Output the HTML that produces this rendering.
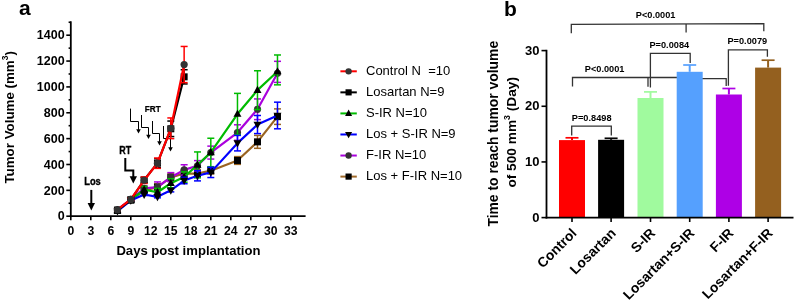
<!DOCTYPE html>
<html><head><meta charset="utf-8"><style>
html,body{margin:0;padding:0;background:#fff;width:797px;height:301px;overflow:hidden}
svg{display:block;will-change:transform}
text{font-family:"Liberation Sans", sans-serif;fill:#000}
</style></head><body>
<svg width="797" height="301" viewBox="0 0 797 301">
<text x="19" y="14.9" font-size="21" font-weight="bold">a</text>
<line x1="70.8" y1="21.3" x2="70.8" y2="217.1" stroke="#000" stroke-width="1.8"/>
<line x1="66.3" y1="216.20" x2="70.8" y2="216.20" stroke="#000" stroke-width="1.6"/>
<text x="64.6" y="220.40" font-size="12.5" font-weight="bold" text-anchor="end">0</text>
<line x1="66.3" y1="190.34" x2="70.8" y2="190.34" stroke="#000" stroke-width="1.6"/>
<text x="64.6" y="194.54" font-size="12.5" font-weight="bold" text-anchor="end">200</text>
<line x1="66.3" y1="164.49" x2="70.8" y2="164.49" stroke="#000" stroke-width="1.6"/>
<text x="64.6" y="168.69" font-size="12.5" font-weight="bold" text-anchor="end">400</text>
<line x1="66.3" y1="138.63" x2="70.8" y2="138.63" stroke="#000" stroke-width="1.6"/>
<text x="64.6" y="142.83" font-size="12.5" font-weight="bold" text-anchor="end">600</text>
<line x1="66.3" y1="112.77" x2="70.8" y2="112.77" stroke="#000" stroke-width="1.6"/>
<text x="64.6" y="116.97" font-size="12.5" font-weight="bold" text-anchor="end">800</text>
<line x1="66.3" y1="86.91" x2="70.8" y2="86.91" stroke="#000" stroke-width="1.6"/>
<text x="64.6" y="91.11" font-size="12.5" font-weight="bold" text-anchor="end">1000</text>
<line x1="66.3" y1="61.06" x2="70.8" y2="61.06" stroke="#000" stroke-width="1.6"/>
<text x="64.6" y="65.26" font-size="12.5" font-weight="bold" text-anchor="end">1200</text>
<line x1="66.3" y1="35.20" x2="70.8" y2="35.20" stroke="#000" stroke-width="1.6"/>
<text x="64.6" y="39.40" font-size="12.5" font-weight="bold" text-anchor="end">1400</text>
<line x1="68.6" y1="203.27" x2="70.8" y2="203.27" stroke="#000" stroke-width="1.6"/>
<line x1="68.6" y1="177.41" x2="70.8" y2="177.41" stroke="#000" stroke-width="1.6"/>
<line x1="68.6" y1="151.56" x2="70.8" y2="151.56" stroke="#000" stroke-width="1.6"/>
<line x1="68.6" y1="125.70" x2="70.8" y2="125.70" stroke="#000" stroke-width="1.6"/>
<line x1="68.6" y1="99.84" x2="70.8" y2="99.84" stroke="#000" stroke-width="1.6"/>
<line x1="68.6" y1="73.99" x2="70.8" y2="73.99" stroke="#000" stroke-width="1.6"/>
<line x1="68.6" y1="48.13" x2="70.8" y2="48.13" stroke="#000" stroke-width="1.6"/>
<line x1="68.6" y1="22.27" x2="70.8" y2="22.27" stroke="#000" stroke-width="1.6"/>
<line x1="69.89999999999999" y1="216.2" x2="305.6" y2="216.2" stroke="#000" stroke-width="1.8"/>
<line x1="70.80" y1="216.2" x2="70.80" y2="220.2" stroke="#000" stroke-width="1.6"/>
<text x="70.80" y="234.6" font-size="12.2" font-weight="bold" text-anchor="middle">0</text>
<line x1="90.80" y1="216.2" x2="90.80" y2="220.2" stroke="#000" stroke-width="1.6"/>
<text x="90.80" y="234.6" font-size="12.2" font-weight="bold" text-anchor="middle">3</text>
<line x1="110.80" y1="216.2" x2="110.80" y2="220.2" stroke="#000" stroke-width="1.6"/>
<text x="110.80" y="234.6" font-size="12.2" font-weight="bold" text-anchor="middle">6</text>
<line x1="130.80" y1="216.2" x2="130.80" y2="220.2" stroke="#000" stroke-width="1.6"/>
<text x="130.80" y="234.6" font-size="12.2" font-weight="bold" text-anchor="middle">9</text>
<line x1="150.80" y1="216.2" x2="150.80" y2="220.2" stroke="#000" stroke-width="1.6"/>
<text x="150.80" y="234.6" font-size="12.2" font-weight="bold" text-anchor="middle">12</text>
<line x1="170.81" y1="216.2" x2="170.81" y2="220.2" stroke="#000" stroke-width="1.6"/>
<text x="170.81" y="234.6" font-size="12.2" font-weight="bold" text-anchor="middle">15</text>
<line x1="190.81" y1="216.2" x2="190.81" y2="220.2" stroke="#000" stroke-width="1.6"/>
<text x="190.81" y="234.6" font-size="12.2" font-weight="bold" text-anchor="middle">18</text>
<line x1="210.81" y1="216.2" x2="210.81" y2="220.2" stroke="#000" stroke-width="1.6"/>
<text x="210.81" y="234.6" font-size="12.2" font-weight="bold" text-anchor="middle">21</text>
<line x1="230.81" y1="216.2" x2="230.81" y2="220.2" stroke="#000" stroke-width="1.6"/>
<text x="230.81" y="234.6" font-size="12.2" font-weight="bold" text-anchor="middle">24</text>
<line x1="250.81" y1="216.2" x2="250.81" y2="220.2" stroke="#000" stroke-width="1.6"/>
<text x="250.81" y="234.6" font-size="12.2" font-weight="bold" text-anchor="middle">27</text>
<line x1="270.81" y1="216.2" x2="270.81" y2="220.2" stroke="#000" stroke-width="1.6"/>
<text x="270.81" y="234.6" font-size="12.2" font-weight="bold" text-anchor="middle">30</text>
<line x1="290.81" y1="216.2" x2="290.81" y2="220.2" stroke="#000" stroke-width="1.6"/>
<text x="290.81" y="234.6" font-size="12.2" font-weight="bold" text-anchor="middle">33</text>
<text x="116.4" y="254.5" font-size="13.1" font-weight="bold">Days post implantation</text>
<text transform="translate(13.8,183.6) rotate(-90)" font-size="13.35" font-weight="bold">Tumor Volume (mm<tspan dy="-6.3" font-size="8.5">3</tspan><tspan dy="6.3">)</tspan></text>
<text transform="translate(84.2,184.6) scale(0.85,1)" font-size="11" font-weight="bold" stroke="#000" stroke-width="0.35">Los</text>
<line x1="91.3" y1="189.9" x2="91.3" y2="204" stroke="#000" stroke-width="2"/>
<path d="M87.6,203 L95,203 L91.3,210.4 Z" fill="#000"/>
<text transform="translate(119.3,153.6) scale(0.88,1)" font-size="10.2" font-weight="bold" stroke="#000" stroke-width="0.3">RT</text>
<path d="M125.3,157.9 L125.3,170.4 L133.3,170.4 L133.3,177" fill="none" stroke="#000" stroke-width="2"/>
<path d="M129.6,176.3 L137,176.3 L133.3,183.6 Z" fill="#000"/>
<text transform="translate(144.8,111.6) scale(0.9,1)" font-size="9.1" font-weight="bold" stroke="#000" stroke-width="0.25">FRT</text>
<path d="M130.5,108.6 L130.5,121.5 L138.5,121.5 L138.5,129.9" fill="none" stroke="#000" stroke-width="1"/>
<path d="M136.2,129.20000000000002 L140.8,129.20000000000002 L138.5,133.4 Z" fill="#000"/>
<path d="M141.5,115 L141.5,127.5 L148.5,127.5 L148.5,135.5" fill="none" stroke="#000" stroke-width="1"/>
<path d="M146.2,134.8 L150.8,134.8 L148.5,139 Z" fill="#000"/>
<path d="M152.5,121 L152.5,133.5 L159.5,133.5 L159.5,141.9" fill="none" stroke="#000" stroke-width="1"/>
<path d="M157.2,141.20000000000002 L161.8,141.20000000000002 L159.5,145.4 Z" fill="#000"/>
<path d="M163.5,126 L163.5,138.5 L170.5,138.5 L170.5,147.9" fill="none" stroke="#000" stroke-width="1"/>
<path d="M168.2,147.20000000000002 L172.8,147.20000000000002 L170.5,151.4 Z" fill="#000"/>
<line x1="117.47" y1="208.44" x2="117.47" y2="212.32" stroke="#9a6422" stroke-width="1.5"/>
<line x1="113.97" y1="208.44" x2="120.97" y2="208.44" stroke="#9a6422" stroke-width="1.5"/>
<line x1="113.97" y1="212.32" x2="120.97" y2="212.32" stroke="#9a6422" stroke-width="1.5"/>
<line x1="130.80" y1="198.49" x2="130.80" y2="201.59" stroke="#9a6422" stroke-width="1.5"/>
<line x1="127.30" y1="198.49" x2="134.30" y2="198.49" stroke="#9a6422" stroke-width="1.5"/>
<line x1="127.30" y1="201.59" x2="134.30" y2="201.59" stroke="#9a6422" stroke-width="1.5"/>
<line x1="144.14" y1="187.76" x2="144.14" y2="192.93" stroke="#9a6422" stroke-width="1.5"/>
<line x1="140.64" y1="187.76" x2="147.64" y2="187.76" stroke="#9a6422" stroke-width="1.5"/>
<line x1="140.64" y1="192.93" x2="147.64" y2="192.93" stroke="#9a6422" stroke-width="1.5"/>
<line x1="157.47" y1="183.88" x2="157.47" y2="190.34" stroke="#9a6422" stroke-width="1.5"/>
<line x1="153.97" y1="183.88" x2="160.97" y2="183.88" stroke="#9a6422" stroke-width="1.5"/>
<line x1="153.97" y1="190.34" x2="160.97" y2="190.34" stroke="#9a6422" stroke-width="1.5"/>
<line x1="170.81" y1="173.54" x2="170.81" y2="181.29" stroke="#9a6422" stroke-width="1.5"/>
<line x1="167.31" y1="173.54" x2="174.31" y2="173.54" stroke="#9a6422" stroke-width="1.5"/>
<line x1="167.31" y1="181.29" x2="174.31" y2="181.29" stroke="#9a6422" stroke-width="1.5"/>
<line x1="184.14" y1="169.66" x2="184.14" y2="177.41" stroke="#9a6422" stroke-width="1.5"/>
<line x1="180.64" y1="169.66" x2="187.64" y2="169.66" stroke="#9a6422" stroke-width="1.5"/>
<line x1="180.64" y1="177.41" x2="187.64" y2="177.41" stroke="#9a6422" stroke-width="1.5"/>
<line x1="197.47" y1="169.66" x2="197.47" y2="177.41" stroke="#9a6422" stroke-width="1.5"/>
<line x1="193.97" y1="169.66" x2="200.97" y2="169.66" stroke="#9a6422" stroke-width="1.5"/>
<line x1="193.97" y1="177.41" x2="200.97" y2="177.41" stroke="#9a6422" stroke-width="1.5"/>
<line x1="210.81" y1="167.46" x2="210.81" y2="173.92" stroke="#9a6422" stroke-width="1.5"/>
<line x1="207.31" y1="167.46" x2="214.31" y2="167.46" stroke="#9a6422" stroke-width="1.5"/>
<line x1="207.31" y1="173.92" x2="214.31" y2="173.92" stroke="#9a6422" stroke-width="1.5"/>
<line x1="237.47" y1="156.60" x2="237.47" y2="164.36" stroke="#9a6422" stroke-width="1.5"/>
<line x1="233.97" y1="156.60" x2="240.97" y2="156.60" stroke="#9a6422" stroke-width="1.5"/>
<line x1="233.97" y1="164.36" x2="240.97" y2="164.36" stroke="#9a6422" stroke-width="1.5"/>
<line x1="257.48" y1="135.40" x2="257.48" y2="148.32" stroke="#9a6422" stroke-width="1.5"/>
<line x1="253.98" y1="135.40" x2="260.98" y2="135.40" stroke="#9a6422" stroke-width="1.5"/>
<line x1="253.98" y1="148.32" x2="260.98" y2="148.32" stroke="#9a6422" stroke-width="1.5"/>
<line x1="277.48" y1="108.89" x2="277.48" y2="124.41" stroke="#9a6422" stroke-width="1.5"/>
<line x1="273.98" y1="108.89" x2="280.98" y2="108.89" stroke="#9a6422" stroke-width="1.5"/>
<line x1="273.98" y1="124.41" x2="280.98" y2="124.41" stroke="#9a6422" stroke-width="1.5"/>
<polyline points="117.47,210.38 130.80,200.04 144.14,190.34 157.47,187.11 170.81,177.41 184.14,173.54 197.47,173.54 210.81,170.69 237.47,160.48 257.48,141.86 277.48,116.65" fill="none" stroke="#9a6422" stroke-width="2.2" stroke-linejoin="round"/>
<rect x="113.97" y="206.88" width="7.00" height="7.00" fill="#000"/>
<rect x="127.30" y="196.54" width="7.00" height="7.00" fill="#000"/>
<rect x="140.64" y="186.84" width="7.00" height="7.00" fill="#000"/>
<rect x="153.97" y="183.61" width="7.00" height="7.00" fill="#000"/>
<rect x="167.31" y="173.91" width="7.00" height="7.00" fill="#000"/>
<rect x="180.64" y="170.04" width="7.00" height="7.00" fill="#000"/>
<rect x="193.97" y="170.04" width="7.00" height="7.00" fill="#000"/>
<rect x="207.31" y="167.19" width="7.00" height="7.00" fill="#000"/>
<rect x="233.97" y="156.98" width="7.00" height="7.00" fill="#000"/>
<rect x="253.98" y="138.36" width="7.00" height="7.00" fill="#000"/>
<rect x="273.98" y="113.15" width="7.00" height="7.00" fill="#000"/>
<line x1="117.47" y1="207.80" x2="117.47" y2="211.67" stroke="#aa00dd" stroke-width="1.5"/>
<line x1="113.97" y1="207.80" x2="120.97" y2="207.80" stroke="#aa00dd" stroke-width="1.5"/>
<line x1="113.97" y1="211.67" x2="120.97" y2="211.67" stroke="#aa00dd" stroke-width="1.5"/>
<line x1="130.80" y1="197.84" x2="130.80" y2="200.94" stroke="#aa00dd" stroke-width="1.5"/>
<line x1="127.30" y1="197.84" x2="134.30" y2="197.84" stroke="#aa00dd" stroke-width="1.5"/>
<line x1="127.30" y1="200.94" x2="134.30" y2="200.94" stroke="#aa00dd" stroke-width="1.5"/>
<line x1="144.14" y1="185.82" x2="144.14" y2="190.99" stroke="#aa00dd" stroke-width="1.5"/>
<line x1="140.64" y1="185.82" x2="147.64" y2="185.82" stroke="#aa00dd" stroke-width="1.5"/>
<line x1="140.64" y1="190.99" x2="147.64" y2="190.99" stroke="#aa00dd" stroke-width="1.5"/>
<line x1="157.47" y1="181.94" x2="157.47" y2="192.28" stroke="#aa00dd" stroke-width="1.5"/>
<line x1="153.97" y1="181.94" x2="160.97" y2="181.94" stroke="#aa00dd" stroke-width="1.5"/>
<line x1="153.97" y1="192.28" x2="160.97" y2="192.28" stroke="#aa00dd" stroke-width="1.5"/>
<line x1="170.81" y1="172.63" x2="170.81" y2="181.68" stroke="#aa00dd" stroke-width="1.5"/>
<line x1="167.31" y1="172.63" x2="174.31" y2="172.63" stroke="#aa00dd" stroke-width="1.5"/>
<line x1="167.31" y1="181.68" x2="174.31" y2="181.68" stroke="#aa00dd" stroke-width="1.5"/>
<line x1="184.14" y1="164.74" x2="184.14" y2="175.09" stroke="#aa00dd" stroke-width="1.5"/>
<line x1="180.64" y1="164.74" x2="187.64" y2="164.74" stroke="#aa00dd" stroke-width="1.5"/>
<line x1="180.64" y1="175.09" x2="187.64" y2="175.09" stroke="#aa00dd" stroke-width="1.5"/>
<line x1="197.47" y1="160.61" x2="197.47" y2="170.95" stroke="#aa00dd" stroke-width="1.5"/>
<line x1="193.97" y1="160.61" x2="200.97" y2="160.61" stroke="#aa00dd" stroke-width="1.5"/>
<line x1="193.97" y1="170.95" x2="200.97" y2="170.95" stroke="#aa00dd" stroke-width="1.5"/>
<line x1="210.81" y1="146.13" x2="210.81" y2="159.06" stroke="#aa00dd" stroke-width="1.5"/>
<line x1="207.31" y1="146.13" x2="214.31" y2="146.13" stroke="#aa00dd" stroke-width="1.5"/>
<line x1="207.31" y1="159.06" x2="214.31" y2="159.06" stroke="#aa00dd" stroke-width="1.5"/>
<line x1="237.47" y1="124.79" x2="237.47" y2="140.31" stroke="#aa00dd" stroke-width="1.5"/>
<line x1="233.97" y1="124.79" x2="240.97" y2="124.79" stroke="#aa00dd" stroke-width="1.5"/>
<line x1="233.97" y1="140.31" x2="240.97" y2="140.31" stroke="#aa00dd" stroke-width="1.5"/>
<line x1="257.48" y1="98.94" x2="257.48" y2="119.62" stroke="#aa00dd" stroke-width="1.5"/>
<line x1="253.98" y1="98.94" x2="260.98" y2="98.94" stroke="#aa00dd" stroke-width="1.5"/>
<line x1="253.98" y1="119.62" x2="260.98" y2="119.62" stroke="#aa00dd" stroke-width="1.5"/>
<line x1="277.48" y1="61.32" x2="277.48" y2="82.39" stroke="#aa00dd" stroke-width="1.5"/>
<line x1="273.98" y1="61.32" x2="280.98" y2="61.32" stroke="#aa00dd" stroke-width="1.5"/>
<line x1="273.98" y1="82.39" x2="280.98" y2="82.39" stroke="#aa00dd" stroke-width="1.5"/>
<polyline points="117.47,209.74 130.80,199.39 144.14,188.40 157.47,187.11 170.81,177.16 184.14,169.92 197.47,165.78 210.81,152.59 237.47,132.55 257.48,109.28 277.48,73.34" fill="none" stroke="#aa00dd" stroke-width="2.2" stroke-linejoin="round"/>
<circle cx="117.47" cy="209.74" r="3.60" fill="#333"/>
<circle cx="130.80" cy="199.39" r="3.60" fill="#333"/>
<circle cx="144.14" cy="188.40" r="3.60" fill="#333"/>
<circle cx="157.47" cy="187.11" r="3.60" fill="#333"/>
<circle cx="170.81" cy="177.16" r="3.60" fill="#333"/>
<circle cx="184.14" cy="169.92" r="3.60" fill="#333"/>
<circle cx="197.47" cy="165.78" r="3.60" fill="#333"/>
<circle cx="210.81" cy="152.59" r="3.60" fill="#333"/>
<circle cx="237.47" cy="132.55" r="3.60" fill="#333"/>
<circle cx="257.48" cy="109.28" r="3.60" fill="#333"/>
<circle cx="277.48" cy="73.34" r="3.60" fill="#333"/>
<line x1="117.47" y1="208.44" x2="117.47" y2="212.32" stroke="#00bb00" stroke-width="1.5"/>
<line x1="113.97" y1="208.44" x2="120.97" y2="208.44" stroke="#00bb00" stroke-width="1.5"/>
<line x1="113.97" y1="212.32" x2="120.97" y2="212.32" stroke="#00bb00" stroke-width="1.5"/>
<line x1="130.80" y1="198.49" x2="130.80" y2="201.59" stroke="#00bb00" stroke-width="1.5"/>
<line x1="127.30" y1="198.49" x2="134.30" y2="198.49" stroke="#00bb00" stroke-width="1.5"/>
<line x1="127.30" y1="201.59" x2="134.30" y2="201.59" stroke="#00bb00" stroke-width="1.5"/>
<line x1="144.14" y1="186.46" x2="144.14" y2="192.93" stroke="#00bb00" stroke-width="1.5"/>
<line x1="140.64" y1="186.46" x2="147.64" y2="186.46" stroke="#00bb00" stroke-width="1.5"/>
<line x1="140.64" y1="192.93" x2="147.64" y2="192.93" stroke="#00bb00" stroke-width="1.5"/>
<line x1="157.47" y1="188.40" x2="157.47" y2="196.16" stroke="#00bb00" stroke-width="1.5"/>
<line x1="153.97" y1="188.40" x2="160.97" y2="188.40" stroke="#00bb00" stroke-width="1.5"/>
<line x1="153.97" y1="196.16" x2="160.97" y2="196.16" stroke="#00bb00" stroke-width="1.5"/>
<line x1="170.81" y1="178.71" x2="170.81" y2="187.76" stroke="#00bb00" stroke-width="1.5"/>
<line x1="167.31" y1="178.71" x2="174.31" y2="178.71" stroke="#00bb00" stroke-width="1.5"/>
<line x1="167.31" y1="187.76" x2="174.31" y2="187.76" stroke="#00bb00" stroke-width="1.5"/>
<line x1="184.14" y1="171.85" x2="184.14" y2="182.20" stroke="#00bb00" stroke-width="1.5"/>
<line x1="180.64" y1="171.85" x2="187.64" y2="171.85" stroke="#00bb00" stroke-width="1.5"/>
<line x1="180.64" y1="182.20" x2="187.64" y2="182.20" stroke="#00bb00" stroke-width="1.5"/>
<line x1="197.47" y1="151.94" x2="197.47" y2="177.80" stroke="#00bb00" stroke-width="1.5"/>
<line x1="193.97" y1="151.94" x2="200.97" y2="151.94" stroke="#00bb00" stroke-width="1.5"/>
<line x1="193.97" y1="177.80" x2="200.97" y2="177.80" stroke="#00bb00" stroke-width="1.5"/>
<line x1="210.81" y1="138.24" x2="210.81" y2="166.68" stroke="#00bb00" stroke-width="1.5"/>
<line x1="207.31" y1="138.24" x2="214.31" y2="138.24" stroke="#00bb00" stroke-width="1.5"/>
<line x1="207.31" y1="166.68" x2="214.31" y2="166.68" stroke="#00bb00" stroke-width="1.5"/>
<line x1="237.47" y1="93.38" x2="237.47" y2="134.75" stroke="#00bb00" stroke-width="1.5"/>
<line x1="233.97" y1="93.38" x2="240.97" y2="93.38" stroke="#00bb00" stroke-width="1.5"/>
<line x1="233.97" y1="134.75" x2="240.97" y2="134.75" stroke="#00bb00" stroke-width="1.5"/>
<line x1="257.48" y1="70.75" x2="257.48" y2="109.54" stroke="#00bb00" stroke-width="1.5"/>
<line x1="253.98" y1="70.75" x2="260.98" y2="70.75" stroke="#00bb00" stroke-width="1.5"/>
<line x1="253.98" y1="109.54" x2="260.98" y2="109.54" stroke="#00bb00" stroke-width="1.5"/>
<line x1="277.48" y1="54.98" x2="277.48" y2="84.85" stroke="#00bb00" stroke-width="1.5"/>
<line x1="273.98" y1="54.98" x2="280.98" y2="54.98" stroke="#00bb00" stroke-width="1.5"/>
<line x1="273.98" y1="84.85" x2="280.98" y2="84.85" stroke="#00bb00" stroke-width="1.5"/>
<polyline points="117.47,210.38 130.80,200.04 144.14,189.70 157.47,192.28 170.81,183.23 184.14,177.03 197.47,164.87 210.81,152.46 237.47,114.06 257.48,90.15 277.48,71.53" fill="none" stroke="#00bb00" stroke-width="2.2" stroke-linejoin="round"/>
<path d="M117.47,205.98 L121.47,213.18 L113.47,213.18 Z" fill="#000"/>
<path d="M130.80,195.64 L134.80,202.84 L126.80,202.84 Z" fill="#000"/>
<path d="M144.14,185.30 L148.14,192.50 L140.14,192.50 Z" fill="#000"/>
<path d="M157.47,187.88 L161.47,195.08 L153.47,195.08 Z" fill="#000"/>
<path d="M170.81,178.83 L174.81,186.03 L166.81,186.03 Z" fill="#000"/>
<path d="M184.14,172.63 L188.14,179.83 L180.14,179.83 Z" fill="#000"/>
<path d="M197.47,160.47 L201.47,167.67 L193.47,167.67 Z" fill="#000"/>
<path d="M210.81,148.06 L214.81,155.26 L206.81,155.26 Z" fill="#000"/>
<path d="M237.47,109.66 L241.47,116.86 L233.47,116.86 Z" fill="#000"/>
<path d="M257.48,85.75 L261.48,92.95 L253.48,92.95 Z" fill="#000"/>
<path d="M277.48,67.13 L281.48,74.33 L273.48,74.33 Z" fill="#000"/>
<line x1="117.47" y1="209.99" x2="117.47" y2="212.06" stroke="#0000ff" stroke-width="1.5"/>
<line x1="113.97" y1="209.99" x2="120.97" y2="209.99" stroke="#0000ff" stroke-width="1.5"/>
<line x1="113.97" y1="212.06" x2="120.97" y2="212.06" stroke="#0000ff" stroke-width="1.5"/>
<line x1="130.80" y1="199.39" x2="130.80" y2="201.46" stroke="#0000ff" stroke-width="1.5"/>
<line x1="127.30" y1="199.39" x2="134.30" y2="199.39" stroke="#0000ff" stroke-width="1.5"/>
<line x1="127.30" y1="201.46" x2="134.30" y2="201.46" stroke="#0000ff" stroke-width="1.5"/>
<line x1="144.14" y1="193.45" x2="144.14" y2="195.51" stroke="#0000ff" stroke-width="1.5"/>
<line x1="140.64" y1="193.45" x2="147.64" y2="193.45" stroke="#0000ff" stroke-width="1.5"/>
<line x1="140.64" y1="195.51" x2="147.64" y2="195.51" stroke="#0000ff" stroke-width="1.5"/>
<line x1="157.47" y1="195.77" x2="157.47" y2="197.84" stroke="#0000ff" stroke-width="1.5"/>
<line x1="153.97" y1="195.77" x2="160.97" y2="195.77" stroke="#0000ff" stroke-width="1.5"/>
<line x1="153.97" y1="197.84" x2="160.97" y2="197.84" stroke="#0000ff" stroke-width="1.5"/>
<line x1="170.81" y1="188.79" x2="170.81" y2="191.89" stroke="#0000ff" stroke-width="1.5"/>
<line x1="167.31" y1="188.79" x2="174.31" y2="188.79" stroke="#0000ff" stroke-width="1.5"/>
<line x1="167.31" y1="191.89" x2="174.31" y2="191.89" stroke="#0000ff" stroke-width="1.5"/>
<line x1="184.14" y1="177.28" x2="184.14" y2="183.75" stroke="#0000ff" stroke-width="1.5"/>
<line x1="180.64" y1="177.28" x2="187.64" y2="177.28" stroke="#0000ff" stroke-width="1.5"/>
<line x1="180.64" y1="183.75" x2="187.64" y2="183.75" stroke="#0000ff" stroke-width="1.5"/>
<line x1="197.47" y1="170.56" x2="197.47" y2="180.90" stroke="#0000ff" stroke-width="1.5"/>
<line x1="193.97" y1="170.56" x2="200.97" y2="170.56" stroke="#0000ff" stroke-width="1.5"/>
<line x1="193.97" y1="180.90" x2="200.97" y2="180.90" stroke="#0000ff" stroke-width="1.5"/>
<line x1="210.81" y1="167.20" x2="210.81" y2="177.54" stroke="#0000ff" stroke-width="1.5"/>
<line x1="207.31" y1="167.20" x2="214.31" y2="167.20" stroke="#0000ff" stroke-width="1.5"/>
<line x1="207.31" y1="177.54" x2="214.31" y2="177.54" stroke="#0000ff" stroke-width="1.5"/>
<line x1="237.47" y1="135.40" x2="237.47" y2="150.91" stroke="#0000ff" stroke-width="1.5"/>
<line x1="233.97" y1="135.40" x2="240.97" y2="135.40" stroke="#0000ff" stroke-width="1.5"/>
<line x1="233.97" y1="150.91" x2="240.97" y2="150.91" stroke="#0000ff" stroke-width="1.5"/>
<line x1="257.48" y1="115.49" x2="257.48" y2="133.59" stroke="#0000ff" stroke-width="1.5"/>
<line x1="253.98" y1="115.49" x2="260.98" y2="115.49" stroke="#0000ff" stroke-width="1.5"/>
<line x1="253.98" y1="133.59" x2="260.98" y2="133.59" stroke="#0000ff" stroke-width="1.5"/>
<line x1="277.48" y1="102.17" x2="277.48" y2="128.80" stroke="#0000ff" stroke-width="1.5"/>
<line x1="273.98" y1="102.17" x2="280.98" y2="102.17" stroke="#0000ff" stroke-width="1.5"/>
<line x1="273.98" y1="128.80" x2="280.98" y2="128.80" stroke="#0000ff" stroke-width="1.5"/>
<polyline points="117.47,211.03 130.80,200.43 144.14,194.48 157.47,196.81 170.81,190.34 184.14,180.52 197.47,175.73 210.81,172.37 237.47,143.15 257.48,124.54 277.48,115.49" fill="none" stroke="#0000ff" stroke-width="2.2" stroke-linejoin="round"/>
<path d="M117.47,215.43 L121.47,208.23 L113.47,208.23 Z" fill="#000"/>
<path d="M130.80,204.83 L134.80,197.63 L126.80,197.63 Z" fill="#000"/>
<path d="M144.14,198.88 L148.14,191.68 L140.14,191.68 Z" fill="#000"/>
<path d="M157.47,201.21 L161.47,194.01 L153.47,194.01 Z" fill="#000"/>
<path d="M170.81,194.74 L174.81,187.54 L166.81,187.54 Z" fill="#000"/>
<path d="M184.14,184.92 L188.14,177.72 L180.14,177.72 Z" fill="#000"/>
<path d="M197.47,180.13 L201.47,172.93 L193.47,172.93 Z" fill="#000"/>
<path d="M210.81,176.77 L214.81,169.57 L206.81,169.57 Z" fill="#000"/>
<path d="M237.47,147.55 L241.47,140.35 L233.47,140.35 Z" fill="#000"/>
<path d="M257.48,128.94 L261.48,121.74 L253.48,121.74 Z" fill="#000"/>
<path d="M277.48,119.89 L281.48,112.69 L273.48,112.69 Z" fill="#000"/>
<line x1="117.47" y1="208.18" x2="117.47" y2="212.06" stroke="#000000" stroke-width="1.5"/>
<line x1="113.97" y1="208.18" x2="120.97" y2="208.18" stroke="#000000" stroke-width="1.5"/>
<line x1="113.97" y1="212.06" x2="120.97" y2="212.06" stroke="#000000" stroke-width="1.5"/>
<line x1="130.80" y1="198.36" x2="130.80" y2="201.46" stroke="#000000" stroke-width="1.5"/>
<line x1="127.30" y1="198.36" x2="134.30" y2="198.36" stroke="#000000" stroke-width="1.5"/>
<line x1="127.30" y1="201.46" x2="134.30" y2="201.46" stroke="#000000" stroke-width="1.5"/>
<line x1="144.14" y1="177.41" x2="144.14" y2="182.59" stroke="#000000" stroke-width="1.5"/>
<line x1="140.64" y1="177.41" x2="147.64" y2="177.41" stroke="#000000" stroke-width="1.5"/>
<line x1="140.64" y1="182.59" x2="147.64" y2="182.59" stroke="#000000" stroke-width="1.5"/>
<line x1="157.47" y1="158.67" x2="157.47" y2="167.72" stroke="#000000" stroke-width="1.5"/>
<line x1="153.97" y1="158.67" x2="160.97" y2="158.67" stroke="#000000" stroke-width="1.5"/>
<line x1="153.97" y1="167.72" x2="160.97" y2="167.72" stroke="#000000" stroke-width="1.5"/>
<line x1="170.81" y1="121.05" x2="170.81" y2="136.56" stroke="#000000" stroke-width="1.5"/>
<line x1="167.31" y1="121.05" x2="174.31" y2="121.05" stroke="#000000" stroke-width="1.5"/>
<line x1="167.31" y1="136.56" x2="174.31" y2="136.56" stroke="#000000" stroke-width="1.5"/>
<line x1="184.14" y1="69.72" x2="184.14" y2="83.94" stroke="#000000" stroke-width="1.5"/>
<line x1="180.64" y1="69.72" x2="187.64" y2="69.72" stroke="#000000" stroke-width="1.5"/>
<line x1="180.64" y1="83.94" x2="187.64" y2="83.94" stroke="#000000" stroke-width="1.5"/>
<polyline points="117.47,210.12 130.80,199.91 144.14,180.00 157.47,163.19 170.81,128.80 184.14,76.83" fill="none" stroke="#000000" stroke-width="2.2" stroke-linejoin="round"/>
<rect x="113.97" y="206.62" width="7.00" height="7.00" fill="#000"/>
<rect x="127.30" y="196.41" width="7.00" height="7.00" fill="#000"/>
<rect x="140.64" y="176.50" width="7.00" height="7.00" fill="#000"/>
<rect x="153.97" y="159.69" width="7.00" height="7.00" fill="#000"/>
<rect x="167.31" y="125.30" width="7.00" height="7.00" fill="#000"/>
<rect x="180.64" y="73.33" width="7.00" height="7.00" fill="#000"/>
<line x1="117.47" y1="208.96" x2="117.47" y2="210.51" stroke="#ff0000" stroke-width="1.5"/>
<line x1="113.97" y1="208.96" x2="120.97" y2="208.96" stroke="#ff0000" stroke-width="1.5"/>
<line x1="113.97" y1="210.51" x2="120.97" y2="210.51" stroke="#ff0000" stroke-width="1.5"/>
<line x1="130.80" y1="198.10" x2="130.80" y2="200.69" stroke="#ff0000" stroke-width="1.5"/>
<line x1="127.30" y1="198.10" x2="134.30" y2="198.10" stroke="#ff0000" stroke-width="1.5"/>
<line x1="127.30" y1="200.69" x2="134.30" y2="200.69" stroke="#ff0000" stroke-width="1.5"/>
<line x1="144.14" y1="177.03" x2="144.14" y2="183.49" stroke="#ff0000" stroke-width="1.5"/>
<line x1="140.64" y1="177.03" x2="147.64" y2="177.03" stroke="#ff0000" stroke-width="1.5"/>
<line x1="140.64" y1="183.49" x2="147.64" y2="183.49" stroke="#ff0000" stroke-width="1.5"/>
<line x1="157.47" y1="158.02" x2="157.47" y2="168.36" stroke="#ff0000" stroke-width="1.5"/>
<line x1="153.97" y1="158.02" x2="160.97" y2="158.02" stroke="#ff0000" stroke-width="1.5"/>
<line x1="153.97" y1="168.36" x2="160.97" y2="168.36" stroke="#ff0000" stroke-width="1.5"/>
<line x1="170.81" y1="117.94" x2="170.81" y2="138.63" stroke="#ff0000" stroke-width="1.5"/>
<line x1="167.31" y1="117.94" x2="174.31" y2="117.94" stroke="#ff0000" stroke-width="1.5"/>
<line x1="167.31" y1="138.63" x2="174.31" y2="138.63" stroke="#ff0000" stroke-width="1.5"/>
<line x1="184.14" y1="46.45" x2="184.14" y2="82.65" stroke="#ff0000" stroke-width="1.5"/>
<line x1="180.64" y1="46.45" x2="187.64" y2="46.45" stroke="#ff0000" stroke-width="1.5"/>
<line x1="180.64" y1="82.65" x2="187.64" y2="82.65" stroke="#ff0000" stroke-width="1.5"/>
<polyline points="117.47,209.74 130.80,199.39 144.14,180.26 157.47,163.19 170.81,128.29 184.14,64.55" fill="none" stroke="#ff0000" stroke-width="2.2" stroke-linejoin="round"/>
<circle cx="117.47" cy="209.74" r="3.60" fill="#333"/>
<circle cx="130.80" cy="199.39" r="3.60" fill="#333"/>
<circle cx="144.14" cy="180.26" r="3.60" fill="#333"/>
<circle cx="157.47" cy="163.19" r="3.60" fill="#333"/>
<circle cx="170.81" cy="128.29" r="3.60" fill="#333"/>
<circle cx="184.14" cy="64.55" r="3.60" fill="#333"/>
<line x1="340.4" y1="71.30" x2="356.8" y2="71.30" stroke="#ff0000" stroke-width="2"/>
<circle cx="348.60" cy="71.30" r="3.17" fill="#333"/>
<text x="366" y="74.80" font-size="13" xml:space="preserve">Control N  =10</text>
<line x1="340.4" y1="92.36" x2="356.8" y2="92.36" stroke="#000000" stroke-width="2"/>
<rect x="345.52" y="89.28" width="6.16" height="6.16" fill="#000"/>
<text x="366" y="95.86" font-size="13" xml:space="preserve">Losartan N=9</text>
<line x1="340.4" y1="113.42" x2="356.8" y2="113.42" stroke="#00bb00" stroke-width="2"/>
<path d="M348.60,109.55 L352.12,115.88 L345.08,115.88 Z" fill="#000"/>
<text x="366" y="116.92" font-size="13" xml:space="preserve">S-IR N=10</text>
<line x1="340.4" y1="134.48" x2="356.8" y2="134.48" stroke="#0000ff" stroke-width="2"/>
<path d="M348.60,138.35 L352.12,132.02 L345.08,132.02 Z" fill="#000"/>
<text x="366" y="137.98" font-size="13" xml:space="preserve">Los + S-IR N=9</text>
<line x1="340.4" y1="155.54" x2="356.8" y2="155.54" stroke="#aa00dd" stroke-width="2"/>
<circle cx="348.60" cy="155.54" r="3.17" fill="#333"/>
<text x="366" y="159.04" font-size="13" xml:space="preserve">F-IR N=10</text>
<line x1="340.4" y1="176.60" x2="356.8" y2="176.60" stroke="#a06a2a" stroke-width="2"/>
<rect x="345.52" y="173.52" width="6.16" height="6.16" fill="#000"/>
<text x="366" y="180.10" font-size="13" xml:space="preserve">Los + F-IR N=10</text>
<text x="504" y="16" font-size="21" font-weight="bold">b</text>
<path d="M571.7,135.6 L571.7,126.2 L611.3,126.2 L611.3,135.6" fill="none" stroke="#333" stroke-width="1.3"/>
<text transform="translate(591.7,120.8) scale(0.95,1)" font-size="9.7" font-weight="bold" text-anchor="middle" fill="#222">P=0.8498</text>
<path d="M572.5,86.4 L572.5,77.5 L690,77.5" fill="none" stroke="#333" stroke-width="1.3"/>
<path d="M695,78.6 L726.2,78.6 L726.2,86" fill="none" stroke="#333" stroke-width="1.3"/>
<path d="M648,77.5 L648,86.8" fill="none" stroke="#333" stroke-width="1.3"/>
<text transform="translate(604.6,71.7) scale(0.95,1)" font-size="9.7" font-weight="bold" text-anchor="middle" fill="#222">P&lt;0.0001</text>
<path d="M650.4,87.4 L650.4,53.3 L690.2,53.3 L690.2,63" fill="none" stroke="#333" stroke-width="1.3"/>
<text transform="translate(669.3,47.9) scale(0.95,1)" font-size="9.7" font-weight="bold" text-anchor="middle" fill="#222">P=0.0084</text>
<path d="M728.4,85.8 L728.4,49.8 L767.4,49.8 L767.4,56.7" fill="none" stroke="#333" stroke-width="1.3"/>
<text transform="translate(747.3,43.5) scale(0.95,1)" font-size="9.7" font-weight="bold" text-anchor="middle" fill="#222">P=0.0079</text>
<path d="M571.3,33.2 L571.3,24.3 L763.8,23.6 L763.8,31.2" fill="none" stroke="#333" stroke-width="1.3"/>
<path d="M686.1,24 L686.1,32.4" fill="none" stroke="#333" stroke-width="1.3"/>
<text transform="translate(655.6,18) scale(0.95,1)" font-size="9.7" font-weight="bold" text-anchor="middle" fill="#222">P&lt;0.0001</text>
<rect x="559.00" y="140.10" width="26" height="77.50" fill="#ff0000"/>
<line x1="572.00" y1="137.80" x2="572.00" y2="140.10" stroke="#ff0000" stroke-width="2"/>
<line x1="565.50" y1="137.80" x2="578.50" y2="137.80" stroke="#ff0000" stroke-width="1.7"/>
<rect x="598.10" y="139.80" width="26" height="77.80" fill="#000000"/>
<line x1="611.10" y1="138.30" x2="611.10" y2="139.80" stroke="#000000" stroke-width="2"/>
<line x1="604.60" y1="138.30" x2="617.60" y2="138.30" stroke="#000000" stroke-width="1.7"/>
<rect x="637.50" y="98.00" width="26" height="119.60" fill="#a0fa9e"/>
<line x1="650.50" y1="91.90" x2="650.50" y2="98.00" stroke="#a0fa9e" stroke-width="2"/>
<line x1="644.00" y1="91.90" x2="657.00" y2="91.90" stroke="#a0fa9e" stroke-width="1.7"/>
<rect x="676.70" y="71.80" width="26" height="145.80" fill="#55a0fe"/>
<line x1="689.70" y1="65.00" x2="689.70" y2="71.80" stroke="#55a0fe" stroke-width="2"/>
<line x1="683.20" y1="65.00" x2="696.20" y2="65.00" stroke="#55a0fe" stroke-width="1.7"/>
<rect x="715.90" y="94.50" width="26" height="123.10" fill="#ae00e6"/>
<line x1="728.90" y1="88.50" x2="728.90" y2="94.50" stroke="#ae00e6" stroke-width="2"/>
<line x1="722.40" y1="88.50" x2="735.40" y2="88.50" stroke="#ae00e6" stroke-width="1.7"/>
<rect x="755.10" y="67.60" width="26" height="150.00" fill="#94601f"/>
<line x1="768.10" y1="60.20" x2="768.10" y2="67.60" stroke="#94601f" stroke-width="2"/>
<line x1="761.60" y1="60.20" x2="774.60" y2="60.20" stroke="#94601f" stroke-width="1.7"/>
<line x1="546.5" y1="49.80" x2="546.5" y2="218.5" stroke="#000" stroke-width="1.8"/>
<line x1="541.5" y1="217.60" x2="546.5" y2="217.60" stroke="#000" stroke-width="1.6"/>
<text x="539.4" y="221.50" font-size="13" font-weight="bold" text-anchor="end">0</text>
<line x1="541.5" y1="161.93" x2="546.5" y2="161.93" stroke="#000" stroke-width="1.6"/>
<text x="539.4" y="165.83" font-size="13" font-weight="bold" text-anchor="end">10</text>
<line x1="541.5" y1="106.27" x2="546.5" y2="106.27" stroke="#000" stroke-width="1.6"/>
<text x="539.4" y="110.17" font-size="13" font-weight="bold" text-anchor="end">20</text>
<line x1="541.5" y1="50.60" x2="546.5" y2="50.60" stroke="#000" stroke-width="1.6"/>
<text x="539.4" y="54.50" font-size="13" font-weight="bold" text-anchor="end">30</text>
<line x1="545.6" y1="217.6" x2="793.5" y2="217.6" stroke="#000" stroke-width="1.8"/>
<line x1="572.00" y1="217.6" x2="572.00" y2="222" stroke="#000" stroke-width="1.6"/>
<text transform="translate(577.50,234.0) rotate(-45)" font-size="13.8" font-weight="bold" text-anchor="end">Control</text>
<line x1="611.10" y1="217.6" x2="611.10" y2="222" stroke="#000" stroke-width="1.6"/>
<text transform="translate(616.60,234.0) rotate(-45)" font-size="13.8" font-weight="bold" text-anchor="end">Losartan</text>
<line x1="650.50" y1="217.6" x2="650.50" y2="222" stroke="#000" stroke-width="1.6"/>
<text transform="translate(656.00,234.0) rotate(-45)" font-size="13.8" font-weight="bold" text-anchor="end">S-IR</text>
<line x1="689.70" y1="217.6" x2="689.70" y2="222" stroke="#000" stroke-width="1.6"/>
<text transform="translate(695.20,234.0) rotate(-45)" font-size="13.8" font-weight="bold" text-anchor="end">Losartan+S-IR</text>
<line x1="728.90" y1="217.6" x2="728.90" y2="222" stroke="#000" stroke-width="1.6"/>
<text transform="translate(734.40,234.0) rotate(-45)" font-size="13.8" font-weight="bold" text-anchor="end">F-IR</text>
<line x1="768.10" y1="217.6" x2="768.10" y2="222" stroke="#000" stroke-width="1.6"/>
<text transform="translate(773.60,234.0) rotate(-45)" font-size="13.8" font-weight="bold" text-anchor="end">Losartan+F-IR</text>
<text transform="translate(497.6,226.6) rotate(-90)" font-size="13.9" font-weight="bold">Time to reach tumor volume</text>
<text transform="translate(516.3,187.6) rotate(-90)" font-size="13.7" font-weight="bold">of 500 mm<tspan dy="-6.3" font-size="8.8">3</tspan><tspan dy="6.3"> (Day)</tspan></text>
</svg>
</body></html>
